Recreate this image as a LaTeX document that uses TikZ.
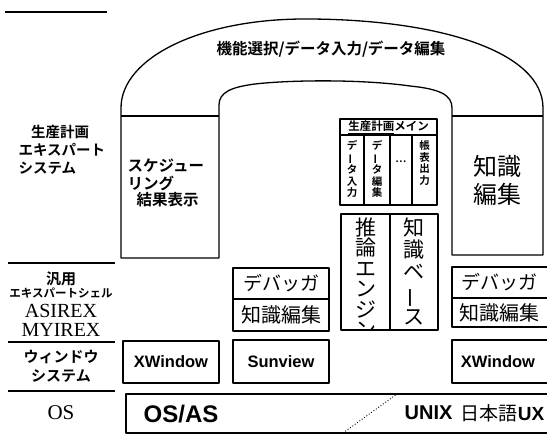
\documentclass[tikz,border=0pt]{standalone}
\usepackage{fontspec}
\setmainfont{Liberation Serif}
\newfontfamily\jp{Noto Sans CJK JP}
\newfontfamily\jpb{Noto Sans CJK JP Bold}
\newfontfamily\hv{Liberation Sans}
\newcommand\vchoon{\rotatebox[origin=c]{90}{ー}}
\begin{document}
\begin{tikzpicture}[x=1pt,y=-1pt,line width=1.3pt,line join=round,
  every node/.style={inner sep=0pt},
  jb/.style={font=\jpb\fontsize{#1}{#1}\selectfont},
  jr/.style={font=\jp\fontsize{#1}{#1}\selectfont},
  hb/.style={font=\hv\bfseries\fontsize{#1}{#1}\selectfont},
  sr/.style={font=\rmfamily\fontsize{#1}{#1}\selectfont},
  vcol/.style={font=\jpb\fontsize{10.5}{11.5}\selectfont, align=center, anchor=north},
  vbig/.style={font=\jp\fontsize{21}{#1}\selectfont, align=center, anchor=north},
  boxed/.style={draw, minimum width=96pt}]
\useasboundingbox (0,0) rectangle (547,435);

% left column labels
\draw (5,12) -- (107,12);
\node[jb=14.5] (l1) at (60,132) {生産計画};
\node[jb=14.5, anchor=west] (l2) at (18,150) {エキスパート};
\node[jb=14.5, anchor=west] (l3) at (18,168) {システム};
\draw (8,263) -- (115,263);
\node[jb=15] (l4) at (61,279) {汎用};
\node[jb=11.5] (l5) at (61,293) {エキスパートシェル};
\node[sr=20] (l6) at (61,311) {ASIREX};
\node[sr=20] (l7) at (61,330) {MYIREX};
\draw (8,342) -- (115,342);
\node[jb=15] (l8) at (61,357) {ウィンドウ};
\node[jb=15] (l9) at (61,376) {システム};
\draw (8,391) -- (115,391);
\node[sr=21] (l10) at (61,413) {OS};

% arch with the two tall boxes
\draw (121,258) -- (121,108) .. controls (121,58) and (200,19) .. (305,19)
  .. controls (440,19) and (543,52) .. (543,108) -- (543,255) -- (452,255)
  -- (452,108) .. controls (452,95) and (440,89) .. (410,86)
  .. controls (360,79) and (290,80) .. (255,84)
  .. controls (232,87) and (219,92) .. (219,105) -- (219,258) -- cycle;
\draw (121,116) -- (219,116);
\draw (452,116) -- (543,116);
\node[jb=15.5] (title) at (331,49) {機能選択/データ入力/データ編集};

\node[jb=15.5, anchor=west] (s1) at (127,166) {スケジュー};
\node[jb=15.5, anchor=west] (s2) at (127,183) {リング};
\node[jb=15.5, anchor=west] (s3) at (136,200) {結果表示};

\node[jr=24] (k1) at (497,166) {知識};
\node[jr=24] (k2) at (497,194) {編集};

% main box
\draw (340,119) rectangle (437,205);
\draw (340,135) -- (437,135);
\draw (364,135) -- (364,205);
\draw (390,135) -- (390,205);
\draw (412,135) -- (412,205);
\node[jb=11.5] (mh) at (388.5,127) {\underline{生産計画}メイン};
\node[vcol] (c1) at (352,140) {デ\\\vchoon\\タ\\入\\力};
\node[vcol] (c2) at (377,140) {デ\\\vchoon\\タ\\編\\集};
\node[jb=10] (c3) at (401,162) {…};
\node[vcol] (c4) at (424.5,140) {帳\\表\\出\\力};

% inference engine / knowledge base
\draw (341,214) rectangle (438,330);
\draw (390,214) -- (390,330);
\begin{scope}
\clip (341,214) rectangle (390,330);
\node[vbig=20.5] (inf) at (365.5,217) {推\\論\\エ\\ン\\ジ\\ン};
\end{scope}
\node[vbig=22.3] (kb) at (414,217) {知\\識\\ベ\\\vchoon\\ス};

% debugger boxes
\node[boxed, minimum height=31pt, jr=19] (d1) at (281,283.5) {デバッガ};
\node[boxed, minimum height=32pt, jr=20] (e1) at (281,315) {知識編集};
\draw (547,267) -- (452,267) -- (452,327) -- (547,327);
\draw (452,298) -- (547,298);
\node[jr=19] (d2) at (499,282.5) {デバッガ};
\node[jr=20] (e2) at (499,312.5) {知識編集};

% window systems
\node[boxed, minimum height=42pt, hb=16.5] (x1) at (171,362) {XWindow};
\node[boxed, minimum height=43pt, hb=16.5] (sv) at (281,361.5) {Sunview};
\draw (547,340) -- (452,340) -- (452,383) -- (547,383);
\node[hb=16.5] (x2) at (498,362) {XWindow};

% OS
\draw (547,394) -- (126,394) -- (126,433) -- (547,433);
\node[hb=24] (osas) at (181,414) {OS/AS};
\coordinate (dA) at (343,433);
\coordinate (dB) at (397,394);
\draw[dotted, line width=0.9pt] (dA) -- (dB);
\node[hb=20, anchor=west] (unix) at (404,413) {UNIX};
\node[anchor=east] (jux) at (545,413) {{\jp\fontsize{19}{19}\selectfont 日本語}{\hv\bfseries\fontsize{19}{19}\selectfont UX}};
\end{tikzpicture}
\end{document}
